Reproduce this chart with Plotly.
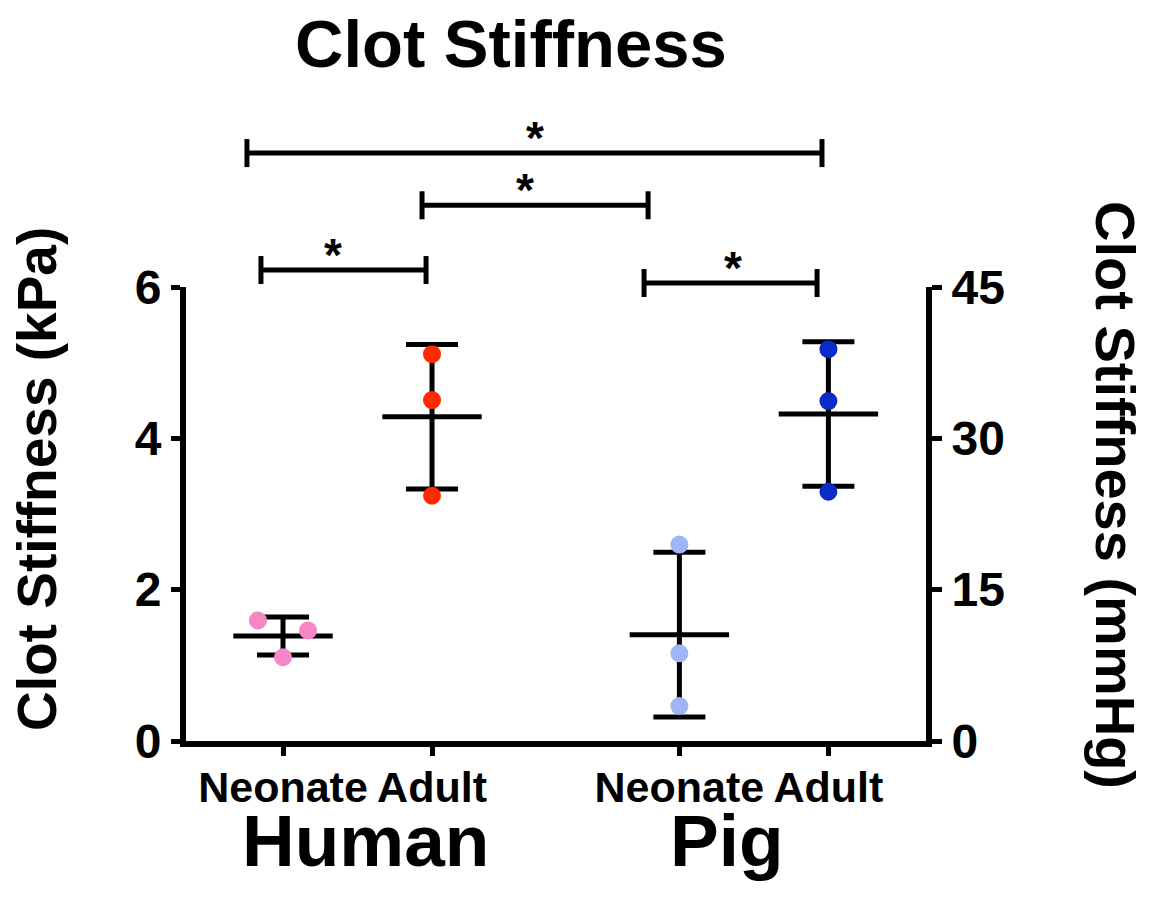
import numpy as np
import plotly.graph_objects as go

# ---- data ----
species = ["Human", "Pig"]
ages = ["Neonate", "Adult"]
human_neonate = [1.594, 1.462, 1.107]
human_adult = [5.112, 4.506, 3.241]
pig_neonate = [2.596, 1.159, 0.461]
pig_adult = [5.178, 4.493, 3.294]
colors = ["#F587C6", "#FF2A00", "#A0B5F5", "#0A2BC8"]
left_ticks = [0, 2, 4, 6]
right_ticks = [0, 15, 30, 45]
kpa_to_mmhg = 7.5

groups = [human_neonate, human_adult, pig_neonate, pig_adult]
labels = ["Human Neonate", "Human Adult", "Pig Neonate", "Pig Adult"]

# ---- layout helpers ----
W, H = 1151, 906
ML, MR, MT, MB = 186, 225, 287, 165
PW, PH = W - ML - MR, H - MT - MB


def px(xp):
    return (xp - ML) / PW


def py(yp):
    return (H - MB - yp) / PH


group_gap = 2.66
xpos = [g * group_gap + s for g in range(2) for s in range(2)]
jitter = [[-0.168, 0.168, 0.0], [0, 0, 0], [0, 0, 0], [0, 0, 0]]

FONT = "Liberation Sans, Arial, sans-serif"
fig = go.Figure()

means = [float(np.mean(v)) for v in groups]
sds = [float(np.std(v, ddof=1)) for v in groups]

# mean line + SD error bars
fig.add_trace(go.Scatter(
    x=xpos, y=means, mode="markers",
    marker=dict(symbol="line-ew", size=71, color="black",
                line=dict(width=5, color="black")),
    error_y=dict(type="data", array=sds, visible=True, color="black",
                 thickness=5, width=26),
    showlegend=False, hoverinfo="skip", cliponaxis=False))

for i, vals in enumerate(groups):
    fig.add_trace(go.Scatter(
        x=[xpos[i] + j for j in jitter[i]], y=vals, mode="markers",
        marker=dict(size=18, color=colors[i], line=dict(width=0)),
        name=labels[i], showlegend=False, cliponaxis=False))

# dummy trace on right axis
fig.add_trace(go.Scatter(x=[xpos[0]], y=[0], yaxis="y2", mode="markers",
                         marker=dict(opacity=0), showlegend=False, hoverinfo="skip"))

# ---- significance brackets (x0, x1, y in kPa, star x) ----
brackets = [
    (-0.148, 0.960, 6.224, 0.336),
    (-0.242, 3.617, 7.770, 1.691),
    (0.933, 2.450, 7.080, 1.624),
    (2.423, 3.584, 6.053, 3.020),
]
yr = 6.0
tick_h = 14 / PH
shapes = []
annotations = []
for x0, x1, yb, xs in brackets:
    yp = yb / yr
    shapes.append(dict(type="line", xref="x", yref="paper", x0=x0, x1=x1, y0=yp, y1=yp,
                       line=dict(color="black", width=5)))
    for xe in (x0, x1):
        shapes.append(dict(type="line", xref="x", yref="paper", x0=xe, x1=xe,
                           y0=yp - tick_h, y1=yp + tick_h,
                           line=dict(color="black", width=5)))
    annotations.append(dict(text="<b>*</b>", x=xs, y=yp, xref="x", yref="paper",
                            xanchor="center", yanchor="bottom", yshift=-13, showarrow=False,
                            font=dict(family=FONT, size=46, color="black")))

# group labels
for name, xg in [(species[0], 0.554), (species[1], 2.977)]:
    annotations.append(dict(text="<b>%s</b>" % name, x=xg, y=py(840), xref="x", yref="paper",
                            xanchor="center", yanchor="middle", showarrow=False,
                            font=dict(family=FONT, size=73, color="black")))

# title and axis titles
annotations.append(dict(text="<b>Clot Stiffness</b>", x=px(511), y=py(44), xref="paper",
                        yref="paper", xanchor="center", yanchor="middle", showarrow=False,
                        font=dict(family=FONT, size=67, color="black")))
annotations.append(dict(text="<b>Clot Stiffness (kPa)</b>", x=px(37), y=py(479), xref="paper",
                        yref="paper", xanchor="center", yanchor="middle", textangle=-90,
                        showarrow=False, font=dict(family=FONT, size=55, color="black")))
annotations.append(dict(text="<b>Clot Stiffness (mmHg)</b>", x=px(1116), y=py(495),
                        xref="paper", yref="paper", xanchor="center", yanchor="middle",
                        textangle=90, showarrow=False,
                        font=dict(family=FONT, size=56, color="black")))

fig.update_layout(
    width=W, height=H,
    margin=dict(l=ML, r=MR, t=MT, b=MB),
    plot_bgcolor="white", paper_bgcolor="white",
    shapes=shapes, annotations=annotations,
    xaxis=dict(range=[-0.651, 4.315], tickvals=xpos, ticktext=["<b>%s</b>" % a for a in ages * 2],
               showline=True, linewidth=6, linecolor="black", ticks="outside", ticklen=9,
               tickwidth=5, tickcolor="black", showgrid=False, zeroline=False,
               ticklabelstandoff=-6,
               tickfont=dict(family=FONT, size=43, color="black")),
    yaxis=dict(range=[0, yr], tickvals=left_ticks, ticktext=["<b>%d</b>" % t for t in left_ticks],
               showline=True, linewidth=6, linecolor="black", ticks="outside", ticklen=9,
               tickwidth=5, tickcolor="black", showgrid=False, zeroline=False,
               tickfont=dict(family=FONT, size=48, color="black")),
    yaxis2=dict(range=[0, yr * kpa_to_mmhg], overlaying="y", side="right",
                tickvals=right_ticks, ticktext=["<b>%d</b>" % t for t in right_ticks],
                showline=True, linewidth=6, linecolor="black", ticks="outside", ticklen=10,
                tickwidth=5, tickcolor="black", showgrid=False, zeroline=False,
                tickfont=dict(family=FONT, size=48, color="black")),
)

fig.write_html("out.html", config={"displayModeBar": False},
               post_script="document.body.style.margin='0px';")
